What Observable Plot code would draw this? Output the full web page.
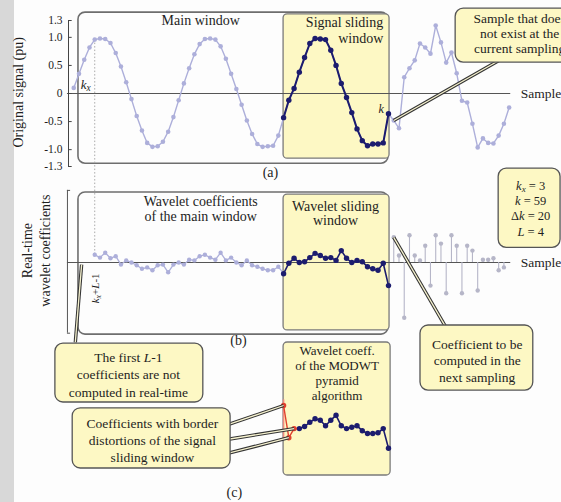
<!DOCTYPE html>
<html><head><meta charset="utf-8">
<script src="https://cdn.jsdelivr.net/npm/d3@7"></script>
<script src="https://cdn.jsdelivr.net/npm/@observablehq/plot@0.6"></script>
<style>
body{margin:0;background:#fff;}
#wrap{position:relative;width:561px;height:502px;overflow:hidden;background:#fdfdfd;}
#wrap svg{position:absolute;left:0;top:0;font-family:'Liberation Serif','DejaVu Serif',serif !important;}
#wrap svg text{font-family:'Liberation Serif','DejaVu Serif',serif !important;}
#strip{position:absolute;left:0;top:0;width:14px;height:502px;background:#d8d8d8;}
</style></head>
<body><div id="wrap"><div id="strip"></div></div>
<script>
// ---------------- DATA ----------------
// sample indices
const kPastStart = -1, kWindowStart = 39, kFutureStart = 60, kCoefStart = 3;
const kx = 3, kNow = 59, dk = 20, Lw = 4;
// (a) original signal (pu)
const signalPast = [0.10,0.35,0.60,0.82,0.96,0.98,0.97,0.90,0.72,0.48,0.20,-0.10,-0.40,-0.66,-0.88,-0.95,-0.94,-0.86,-0.68,-0.42,
  -0.12,0.18,0.45,0.70,0.88,0.97,0.98,0.96,0.84,0.62,0.35,0.08,-0.20,-0.48,-0.72,-0.90,-0.95,-0.94,-0.93,-0.75];
const signalWindow = [-0.43,-0.12,0.09,0.38,0.64,0.89,0.98,0.97,0.96,0.77,0.50,0.18,-0.07,-0.34,-0.63,-0.84,-0.93,-0.90,-0.90,-0.88,-0.36];
const signalFuture = [-0.48,-0.62,0.29,0.45,0.59,0.89,0.82,0.71,1.21,0.91,0.55,0.73,0.36,-0.13,-0.16,-0.54,-0.96,-0.80,-0.88,-0.89,-0.75,-0.54,-0.25];
// (b) real-time wavelet coefficients
const coefPast = [0.11,0.07,0.14,0.06,0.09,-0.03,0.03,0,-0.04,-0.09,-0.07,-0.11,-0.04,-0.03,-0.14,-0.03,0,-0.03,0.04,0.03,
  0.09,0.11,0.07,0.04,0.14,0.03,0.07,0,-0.04,0.03,-0.04,-0.06,-0.09,-0.11,-0.11,-0.06];
const coefWindow = [-0.16,-0.01,0.06,0,0.01,0.07,0.13,0.10,0.06,0.07,0.03,0.17,0.06,0,0.03,0.01,-0.06,-0.09,-0.11,-0.01,-0.33];
const coefFuture = [0.36,0.10,-0.79,0.39,0.10,0.03,0.24,-0.33,0.39,0.27,-0.44,0.39,0.24,-0.44,0.24,0.17,-0.40,0.04,0.04,0.06,-0.11,-0.07];
// (c) MODWT pyramid algorithm coefficients (first L-1 distorted)
const coefPyramid = [0.30,-0.16,-0.03,-0.03,0,0.06,0.11,0.09,0.01,0.09,0.16,0.01,-0.03,-0.01,0.01,-0.06,-0.10,-0.10,-0.09,-0.03,-0.31];
// axis ticks
const yTicks = [1.3,1.0,0.5,0,-0.5,-1.0,-1.3];
const yTickLabels = ["1.3","1.0","0.5","0","-0.5","-1.0","-1.3"];

const tbl = (arr, k0) => arr.map((v, i) => ({k: k0 + i, v}));
const sPast = tbl(signalPast, kPastStart), sWin = tbl(signalWindow, kWindowStart), sFut = tbl(signalFuture, kFutureStart);
const cPast = tbl(coefPast, kCoefStart), cWin = tbl(coefWindow, kWindowStart), cFut = tbl(coefFuture, kFutureStart);
const cPyr = tbl(coefPyramid, kWindowStart);
const nBorder = Lw - 1;

// ---------------- STYLE ----------------
const serif = "'Liberation Serif','DejaVu Serif',serif";
const LIGHT = "#adafda", DARK = "#1c1c6e", YEL = "#fdf8c4", BOX = "#6e6e6e", STEM = "#b6b6c8", RED = "#e0402e", INK = "#1e1e1e";

function panel(marginTop, marginBottom, ydomain, marks) {
  return Plot.plot({
    width: 561, height: 502, marginLeft: 68, marginRight: 173, marginTop, marginBottom,
    x: {domain: [-2, 59], axis: null}, y: {domain: ydomain, axis: null},
    style: {background: "transparent", fontFamily: serif, color: INK},
    marks
  });
}
function callout(b, text, tx, ty, lh, pointers = [], fs = 13.5) {
  const m = [];
  for (const p of pointers) {
    m.push(Plot.link([p], {x1: "x1", y1: "y1", x2: "x2", y2: "y2", stroke: "#333", strokeWidth: 3.4}));
    m.push(Plot.link([p], {x1: "x1", y1: "y1", x2: "x2", y2: "y2", stroke: "#f6f2cf", strokeWidth: 1.3}));
  }
  m.push(Plot.rect([b], {x1: "x1", x2: "x2", y1: "y1", y2: "y2", rx: 8, fill: YEL, stroke: "#555", strokeWidth: 1.3}));
  m.push(Plot.text([text], {x: tx, y: ty, text: d => d, fontSize: fs, lineHeight: lh, fill: INK, fontFamily: serif}));
  return m;
}
const txt = (s, x, y, o = {}) => Plot.text([s], {x, y, text: d => d, fontSize: 14, fill: INK, fontFamily: serif, ...o});

// ---------------- PANEL (a) ----------------
const A = panel(20, 336, [-1.3, 1.3], [
  Plot.rect([{x1: -0.1, x2: 59, y1: 1.44, y2: -1.25}], {x1: "x1", x2: "x2", y1: "y1", y2: "y2", rx: 7, fill: "none", stroke: BOX, strokeWidth: 1.6}),
  Plot.rect([{x1: 39, x2: 59.2, y1: 1.41, y2: -1.16}], {x1: "x1", x2: "x2", y1: "y1", y2: "y2", rx: 4, fill: YEL, stroke: "#7a7a7a", strokeWidth: 1.3}),
  Plot.ruleY([0], {x1: -2.2, x2: 82.3, stroke: "#555", strokeWidth: 1.2}),
  Plot.ruleX([kx], {y1: signalPast[kx - kPastStart], y2: -2.9, stroke: "#aaa", strokeDasharray: "1.5,2"}),
  Plot.ruleX([-2], {y1: -1.3, y2: 1.3, stroke: "#444"}),
  Plot.ruleY(yTicks, {x1: -2, x2: -1.3, stroke: "#444"}),
  Plot.text(yTicks, {x: -2, y: d => d, text: (d, i) => yTickLabels[i], textAnchor: "end", dx: -6, fontSize: 11.5, fill: INK, fontFamily: serif}),
  Plot.line([...sPast, ...sWin, ...sFut], {x: "k", y: "v", stroke: LIGHT, strokeWidth: 1.4}),
  Plot.dot([...sPast, ...sFut], {x: "k", y: "v", r: 2.3, fill: LIGHT}),
  Plot.line(sWin, {x: "k", y: "v", stroke: DARK, strokeWidth: 2}),
  Plot.dot(sWin, {x: "k", y: "v", r: 2.7, fill: DARK}),
  txt("Original signal (pu)", -11.5, 0.02, {rotate: -90}),
  txt("Main window", 23.2, 1.30),
  txt("Signal sliding\nwindow", 58.0, 1.13, {textAnchor: "end", lineHeight: 1.15}),
  txt("*k*", 57.6, -0.27, {fontSize: 12}),
  txt("*k*_x", 1.3, 0.16, {fontSize: 13}),
  txt("(a)", 36.5, -1.41),
  txt("Sample", 84.2, 0, {textAnchor: "start", fontSize: 13.5}),
  ...callout({x1: 71.8, x2: 96, y1: 1.51, y2: 0.55}, "Sample that does\nnot exist at the\ncurrent sampling", 84.0, 1.07, 1.1,
    [{x1: kFutureStart, y1: signalFuture[0], x2: 80.3, y2: 0.6}])
]);

// ---------------- PANEL (b) ----------------
const B = panel(192, 170, [-1, 1], [
  Plot.rect([{x1: -0.1, x2: 59, y1: 1.0, y2: -1.03}], {x1: "x1", x2: "x2", y1: "y1", y2: "y2", rx: 7, fill: "none", stroke: BOX, strokeWidth: 1.6}),
  Plot.rect([{x1: 39, x2: 59.2, y1: 0.97, y2: -0.97}], {x1: "x1", x2: "x2", y1: "y1", y2: "y2", rx: 4, fill: YEL, stroke: "#7a7a7a", strokeWidth: 1.3}),
  Plot.ruleX([-2.2], {y1: 1.03, y2: -1.01, stroke: "#555"}),
  Plot.ruleY([1.03, -1.01], {x1: -2.2, x2: -1.6, stroke: "#555"}),
  Plot.ruleY([0], {x1: -2.2, x2: 82.3, stroke: "#555", strokeWidth: 1.2}),
  Plot.ruleX(cFut, {x: "k", y1: 0, y2: "v", stroke: STEM, strokeWidth: 1.1}),
  Plot.dot(cFut, {x: "k", y: "v", r: 2.2, fill: STEM}),
  Plot.line([...cPast, cWin[0]], {x: "k", y: "v", stroke: LIGHT, strokeWidth: 1.3}),
  Plot.dot(cPast, {x: "k", y: "v", r: 2.2, fill: LIGHT}),
  Plot.line(cWin, {x: "k", y: "v", stroke: DARK, strokeWidth: 1.6}),
  Plot.dot(cWin, {x: "k", y: "v", r: 2.7, fill: DARK}),
  txt("Real-time", -9.8, 0.17, {rotate: -90}),
  txt("wavelet coefficients", -6.4, 0.17, {rotate: -90}),
  txt("Wavelet coefficients\nof the main window", 23.2, 0.77, {lineHeight: 1.07}),
  txt("Wavelet sliding\nwindow", 48.9, 0.70, {lineHeight: 1.0}),
  txt("*k*_x+*L*-1", 3.1, -0.37, {rotate: -90, fontSize: 11}),
  txt("(b)", 30.4, -1.11),
  txt("Sample", 84.2, 0, {textAnchor: "start", fontSize: 13.5}),
  ...callout({x1: -4.5, x2: 23.7, y1: -1.16, y2: -2.0}, "The first *L*-1\ncoefficients are not\ncomputed in real-time", 9.4, -1.59, 1.3,
    [{x1: -0.7, y1: -1.14, x2: 0.5, y2: -0.03}]),
  ...callout({x1: 65.1, x2: 86.6, y1: -0.9, y2: -1.83}, "Coefficient to be\ncomputed in the\nnext sampling", 75.9, -1.39, 1.22,
    [{x1: kFutureStart, y1: coefFuture[0], x2: 69.9, y2: -0.92}]),
  ...callout({x1: 80.0, x2: 91.8, y1: 1.34, y2: 0.21}, `*k*_x = ${kx}\n*k* = ${kNow}\nΔ*k* = ${dk}\n*L* = ${Lw}`, 86.1, 0.78, 1.22, [], 12.5)
]);

// ---------------- PANEL (c) ----------------
const C = panel(356, 6, [-1, 1], [
  Plot.rect([{x1: 39, x2: 59.4, y1: 1.2, y2: -0.7}], {x1: "x1", x2: "x2", y1: "y1", y2: "y2", rx: 4, fill: YEL, stroke: "#7a7a7a", strokeWidth: 1.3}),
  Plot.ruleX([kWindowStart], {y1: 0.38, y2: -0.2, stroke: "#f08a80", strokeWidth: 1.5}),
  Plot.line(cPyr.slice(0, nBorder + 1), {x: "k", y: "v", stroke: RED, strokeWidth: 1.4}),
  Plot.line(cPyr.slice(nBorder), {x: "k", y: "v", stroke: DARK, strokeWidth: 1.6}),
  Plot.dot(cPyr.slice(nBorder), {x: "k", y: "v", r: 2.7, fill: DARK}),
  Plot.dot(cPyr.slice(0, nBorder), {x: "k", y: "v", r: 2.7, fill: RED}),
  txt("Wavelet coeff.\nof the MODWT\npyramid\nalgorithm", 49.2, 0.77, {fontSize: 13, lineHeight: 1.15}),
  txt("(c)", 29.6, -0.94),
  ...callout({x1: -1.2, x2: 28.9, y1: 0.26, y2: -0.6}, "Coefficients with border\ndistortions of the signal\nsliding window", 14.0, -0.18, 1.26,
    [{x1: 27, y1: -0.01, x2: cPyr[0].k, y2: cPyr[0].v},
     {x1: 27, y1: -0.2, x2: cPyr[2].k, y2: cPyr[2].v},
     {x1: 27, y1: -0.41, x2: cPyr[1].k, y2: cPyr[1].v}])
]);

const wrap = document.getElementById("wrap");
for (const s of [A, B, C]) wrap.appendChild(s);

// rich text: *italic* and _x subscript
const NS = "http://www.w3.org/2000/svg";
function rich(el, s) {
  el.textContent = "";
  const parts = s.split(/(\*[^*]+\*|_[a-z])/).filter(p => p !== "");
  let shifted = false;
  for (const p of parts) {
    const t = document.createElementNS(NS, "tspan");
    if (p[0] === "_") {
      t.textContent = p.slice(1); t.setAttribute("font-style", "italic");
      t.setAttribute("font-size", "0.72em"); t.setAttribute("dy", "2.5"); shifted = true;
      el.appendChild(t); continue;
    }
    if (p[0] === "*") { t.textContent = p.slice(1, -1); t.setAttribute("font-style", "italic"); }
    else t.textContent = p;
    if (shifted) { t.setAttribute("dy", "-2.5"); shifted = false; }
    el.appendChild(t);
  }
}
for (const s of [A, B, C]) s.querySelectorAll("text").forEach(t => {
  const spans = [...t.querySelectorAll("tspan")];
  const targets = spans.length ? spans : [t];
  for (const el of targets) { const c = el.textContent; if (/[*_]/.test(c)) rich(el, c); }
});
</script></body></html>
